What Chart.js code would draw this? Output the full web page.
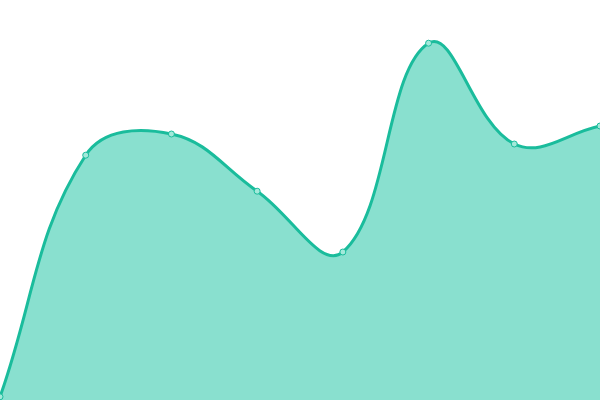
<!DOCTYPE html>
<html>
<head>
<meta charset="utf-8">
<script src="https://cdn.jsdelivr.net/npm/chart.js@4"></script>
<style>
  html, body { margin: 0; padding: 0; background: #fff; }
  #wrap { width: 600px; height: 400px; }
</style>
</head>
<body>
<div id="wrap"><canvas id="grafica"></canvas></div>
<script>
const etiquetas = ["1", "2", "3", "4", "5", "6", "7", "8"];
const valores = [0.8, 61.2, 66.5, 52.2, 37, 89.2, 64, 68.5];
const yMin = 0;
const yMax = 100;

function crearGraficaArea(idCanvas) {
    const ctx = document.getElementById(idCanvas);
    new Chart(ctx, {
        type: "line",
        data: {
            labels: etiquetas,
            datasets: [{
                data: valores,
                fill: true,
                tension: 0.4,
                borderColor: "#1abc9c",
                backgroundColor: "#89e0cf",
                borderWidth: 3,
                pointRadius: 3,
                pointBorderWidth: 1,
                pointBackgroundColor: "#a3e9da",
                pointBorderColor: "#1abc9c"
            }]
        },
        options: {
            responsive: true,
            maintainAspectRatio: false,
            animation: false,
            layout: { padding: 0, autoPadding: false },
            plugins: {
                legend: { display: false },
                tooltip: { enabled: false }
            },
            scales: {
                x: { display: false },
                y: { display: false, min: yMin, max: yMax }
            }
        }
    });
}

document.addEventListener("DOMContentLoaded", () => {
    crearGraficaArea("grafica");
});
</script>
</body>
</html>
